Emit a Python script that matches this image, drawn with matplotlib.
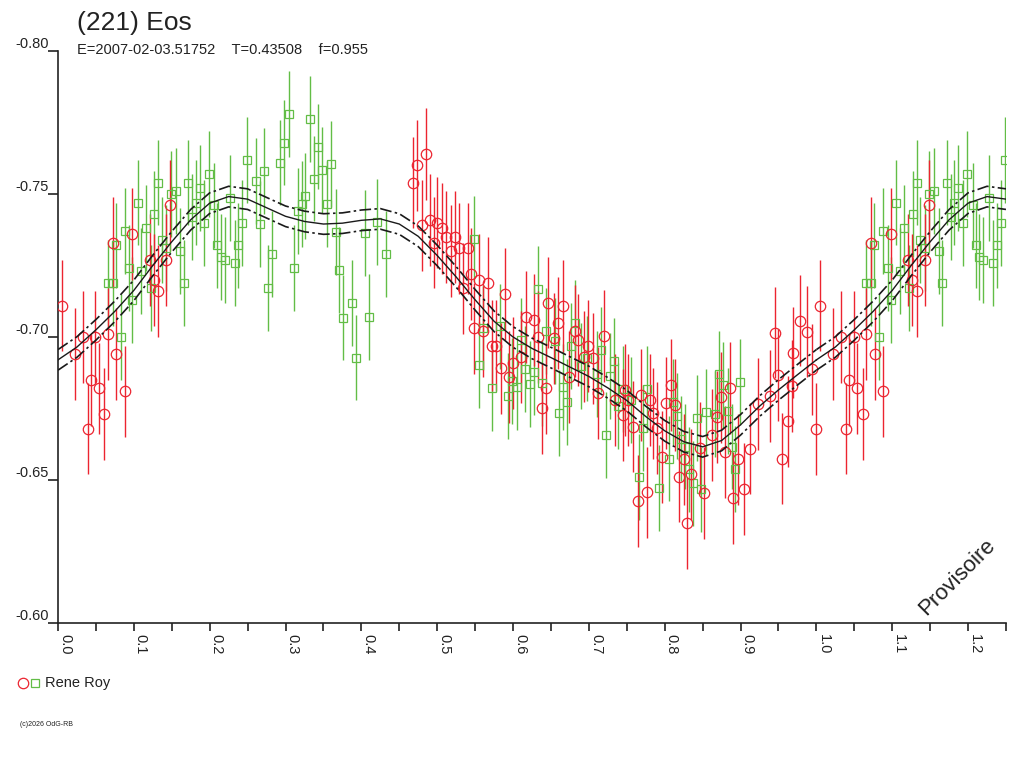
#!/usr/bin/env python

import matplotlib
matplotlib.use('Agg')
import matplotlib.pyplot as plt
from matplotlib.lines import Line2D
from matplotlib.ticker import MultipleLocator, FormatStrFormatter
import numpy as np

TITLE = '(221) Eos'
SUBTITLE = 'E=2007-02-03.51752    T=0.43508    f=0.955'
OBSERVER = 'Rene Roy'
COPYRIGHT = '(c)2026 OdG-RB'
STAMP = 'Provisoire'

PERIOD_REPEAT = 1.0
X_MAX = 1.25

# observer data, red circles
red_phase = [
    0.005, 0.022, 0.033, 0.039, 0.043, 0.049, 0.054, 0.061, 0.066, 0.072,
    0.077, 0.088, 0.098, 0.121, 0.126, 0.132, 0.143, 0.148,
    0.468, 0.474, 0.485, 0.480, 0.490, 0.496, 0.500, 0.506, 0.511, 0.518,
    0.523, 0.529, 0.534, 0.540, 0.545, 0.549, 0.555, 0.560, 0.567, 0.572,
    0.578, 0.584, 0.589, 0.595, 0.600, 0.610, 0.617, 0.628, 0.633, 0.638,
    0.644, 0.646,
    0.654, 0.659, 0.666, 0.674, 0.682, 0.686, 0.694, 0.699, 0.705, 0.712,
    0.720, 0.734, 0.747, 0.751, 0.745, 0.758, 0.765, 0.769, 0.776, 0.780,
    0.785, 0.790, 0.796, 0.802, 0.808, 0.813, 0.819, 0.825, 0.830, 0.835,
    0.846, 0.852, 0.863, 0.869, 0.874, 0.879, 0.886, 0.890, 0.896, 0.905,
    0.913, 0.923, 0.939, 0.945, 0.950, 0.955, 0.963, 0.969,
    0.968, 0.978, 0.988, 0.994, 0.999,
]
red_mag = [
    -0.711, -0.694, -0.700, -0.668, -0.685, -0.700, -0.682, -0.673, -0.701, -0.733,
    -0.694, -0.681, -0.736, -0.727, -0.720, -0.716, -0.727, -0.746,
    -0.754, -0.760, -0.764, -0.739, -0.741, -0.733, -0.740, -0.738, -0.735, -0.730,
    -0.735, -0.731, -0.717, -0.731, -0.722, -0.703, -0.720, -0.702, -0.719, -0.697,
    -0.697, -0.689, -0.715, -0.686, -0.691, -0.693, -0.707, -0.706, -0.700, -0.675,
    -0.682, -0.712,
    -0.6995, -0.7049, -0.7109, -0.6861, -0.7021, -0.6990, -0.6931, -0.6969, -0.6925, -0.6804,
    -0.7004, -0.6780, -0.6815, -0.6780, -0.6727, -0.6687, -0.6427, -0.6798, -0.6457, -0.6780,
    -0.6733, -0.6681, -0.6580, -0.6770, -0.6832, -0.6762, -0.6512, -0.6572, -0.6350, -0.6520,
    -0.6612, -0.6455, -0.6657, -0.6721, -0.6789, -0.6597, -0.6821, -0.6437, -0.6572, -0.6469,
    -0.6610, -0.6765, -0.6794, -0.7015, -0.6867, -0.6575, -0.6705, -0.6945,
    -0.6829, -0.7057, -0.7019, -0.6887, -0.6679,
]
red_err = 0.016

# observer data, green squares
green_phase = [
    0.066, 0.072, 0.076, 0.083, 0.088, 0.094, 0.098, 0.105, 0.110, 0.116,
    0.122, 0.127, 0.132, 0.137, 0.143, 0.149, 0.155, 0.161, 0.166, 0.172,
    0.177, 0.182, 0.187, 0.193, 0.199, 0.206, 0.210, 0.215, 0.220, 0.227,
    0.233, 0.238, 0.243, 0.249, 0.261, 0.266, 0.271, 0.277, 0.282, 0.293,
    0.298, 0.305, 0.311, 0.317,
    0.322, 0.326, 0.332, 0.338, 0.343, 0.348, 0.355, 0.360, 0.366, 0.371,
    0.376, 0.387, 0.393, 0.405, 0.410, 0.421, 0.432,
    0.549, 0.555, 0.560, 0.572, 0.583, 0.594, 0.598, 0.605, 0.611, 0.616,
    0.622, 0.628, 0.633, 0.638, 0.644,
    0.655, 0.661, 0.666, 0.671, 0.677, 0.682, 0.690, 0.698, 0.711, 0.716,
    0.722, 0.728, 0.733, 0.739, 0.745, 0.756, 0.766, 0.772, 0.777, 0.793,
    0.805, 0.811, 0.816, 0.822, 0.827, 0.832, 0.837, 0.843, 0.848, 0.855,
    0.866, 0.871, 0.877, 0.883, 0.889, 0.893, 0.899,
]
green_mag = [
    -0.719, -0.719, -0.732, -0.700, -0.737, -0.724, -0.713, -0.747, -0.723, -0.738,
    -0.717, -0.743, -0.754, -0.734, -0.731, -0.750, -0.751, -0.730, -0.719, -0.754,
    -0.742, -0.747, -0.752, -0.740, -0.757, -0.746, -0.732, -0.728, -0.727, -0.7485,
    -0.726, -0.732, -0.740, -0.762, -0.7545, -0.7395, -0.758, -0.717, -0.729, -0.761,
    -0.768, -0.778, -0.724, -0.744,
    -0.7465, -0.7494, -0.7762, -0.7554, -0.7666, -0.7584, -0.7465, -0.7606, -0.7367, -0.7234,
    -0.7068, -0.7118, -0.6928, -0.7364, -0.7071, -0.7402, -0.7291,
    -0.7343, -0.6902, -0.7033, -0.6823, -0.7037, -0.6795, -0.6846, -0.6825, -0.6988, -0.6888,
    -0.6837, -0.6878, -0.7168, -0.6840, -0.7021,
    -0.6985, -0.6733, -0.6825, -0.6774, -0.6969, -0.7049, -0.6898, -0.6925, -0.6871, -0.6956,
    -0.6656, -0.6865, -0.6915, -0.6758, -0.6818, -0.6780, -0.6510, -0.6681, -0.6819, -0.6473,
    -0.6575, -0.6774, -0.6725, -0.6645, -0.6617, -0.6537, -0.6488, -0.6718, -0.6467, -0.6739,
    -0.6730, -0.6871, -0.6831, -0.6741, -0.6617, -0.6539, -0.6844,
]
green_err = 0.015

# fitted light curve over one rotation, with its uncertainty band
fit_phase = [
    0.000, 0.025, 0.050, 0.075, 0.100, 0.125, 0.150, 0.175, 0.200, 0.225,
    0.250, 0.275, 0.300, 0.325, 0.350, 0.375, 0.400, 0.425, 0.450, 0.475,
    0.500, 0.525, 0.550, 0.575, 0.600, 0.625, 0.650, 0.675, 0.700, 0.725,
    0.750, 0.775, 0.800, 0.825, 0.850, 0.875, 0.900, 0.925, 0.950, 0.975,
    1.000,
]
fit_mag = [
    -0.6920, -0.6965, -0.7025, -0.7090, -0.7163, -0.7250, -0.7333, -0.7410, -0.7468, -0.7491,
    -0.7482, -0.7452, -0.7422, -0.7404, -0.7395, -0.7398, -0.7408, -0.7413, -0.7395, -0.7352,
    -0.7285, -0.7210, -0.7130, -0.7055, -0.7000, -0.6960, -0.6928, -0.6895, -0.6862, -0.6822,
    -0.6778, -0.6722, -0.6672, -0.6634, -0.6616, -0.6638, -0.6693, -0.6758, -0.6815, -0.6868,
    -0.6920,
]
fit_band = 0.0036

RED = '#ec2430'
GREEN = '#62bd46'
FONT = ['Liberation Sans', 'DejaVu Sans']


def _wrap(phase, mag):
    # points of the first part of the cycle are shown again one period later
    phase = np.asarray(phase)
    mag = np.asarray(mag)
    extra = phase + PERIOD_REPEAT <= X_MAX
    return (np.concatenate([phase, phase[extra] + PERIOD_REPEAT]),
            np.concatenate([mag, mag[extra]]))


def _plot_series(ax, phase, mag, err, color, marker, size):
    x, y = _wrap(phase, mag)
    ax.errorbar(x, y, yerr=err, fmt='none', ecolor=color, elinewidth=1.0, capsize=0, zorder=2)
    ax.plot(x, y, linestyle='none', marker=marker, markersize=size, markerfacecolor='none',
            markeredgecolor=color, markeredgewidth=0.9, zorder=3)


def main():
    plt.rcParams['font.family'] = FONT
    plt.rcParams['axes.unicode_minus'] = False

    fig = plt.figure(figsize=(10.24, 7.68), dpi=100)
    ax = fig.add_axes([58 / 1024, 1 - 623 / 768, 948 / 1024, 572 / 768])

    _plot_series(ax, green_phase, green_mag, green_err, GREEN, 's', 6)
    _plot_series(ax, red_phase, red_mag, red_err, RED, 'o', 7.5)

    fp = np.asarray(fit_phase)
    fm = np.asarray(fit_mag)
    for shift in (0.0, PERIOD_REPEAT):
        keep = fp + shift <= X_MAX + 0.001
        xs = fp[keep] + shift
        ax.plot(xs, fm[keep], color='#1a1a1a', lw=1.0, zorder=4)
        ax.plot(xs, fm[keep] - fit_band, color='#1a1a1a', lw=1.2, zorder=4,
                linestyle=(0, (7, 2, 1.5, 2)))
        ax.plot(xs, fm[keep] + fit_band, color='#1a1a1a', lw=1.2, zorder=4,
                linestyle=(0, (7, 2, 1.5, 2)))

    ax.set_xlim(0, X_MAX)
    ax.set_ylim(-0.60, -0.80)
    ax.spines['top'].set_visible(False)
    ax.spines['right'].set_visible(False)
    for side in ('left', 'bottom'):
        ax.spines[side].set_linewidth(1.2)
        ax.spines[side].set_color('#222222')

    ax.xaxis.set_major_locator(MultipleLocator(0.1))
    ax.xaxis.set_minor_locator(MultipleLocator(0.05))
    ax.xaxis.set_major_formatter(FormatStrFormatter('%.1f'))
    ax.yaxis.set_major_locator(MultipleLocator(0.05))
    ax.yaxis.set_major_formatter(FormatStrFormatter('%.2f'))
    ax.tick_params(axis='x', which='both', direction='out', length=6, width=1.2,
                   color='#222222', labelsize=10.5, labelcolor='#222222', pad=2)
    ax.tick_params(axis='y', direction='out', length=7.5, width=1.2, color='#222222',
                   labelsize=10.5, labelcolor='#222222', pad=-1)
    for lab in ax.get_xticklabels():
        lab.set_rotation(-90)
        lab.set_ha('left')
        lab.set_va('top')
    for lab in ax.get_yticklabels():
        lab.set_va('bottom')

    fig.text(77 / 1024, 1 - 30 / 768, TITLE, fontsize=19, color='#222222', va='baseline')
    fig.text(77 / 1024, 1 - 54 / 768, SUBTITLE, fontsize=10.5, color='#222222', va='baseline')

    ax.text(0.948, 0.080, STAMP, transform=ax.transAxes, fontsize=16, rotation=45,
            ha='center', va='center', color='#222222')

    fig.add_artist(Line2D([23 / 1024], [1 - 683 / 768], marker='o', markersize=7.5,
                          markerfacecolor='none', markeredgecolor=RED, markeredgewidth=0.9,
                          linestyle='none', transform=fig.transFigure))
    fig.add_artist(Line2D([35 / 1024], [1 - 683 / 768], marker='s', markersize=6,
                          markerfacecolor='none', markeredgecolor=GREEN, markeredgewidth=0.9,
                          linestyle='none', transform=fig.transFigure))
    fig.text(45 / 1024, 1 - 683 / 768, OBSERVER, fontsize=10.5, color='#222222', va='center')
    fig.text(20 / 1024, 1 - 724 / 768, COPYRIGHT, fontsize=5, color='#222222', va='center')

    fig.savefig('out.png', dpi=100, facecolor='white')
    plt.close(fig)


if __name__ == '__main__':
    main()
